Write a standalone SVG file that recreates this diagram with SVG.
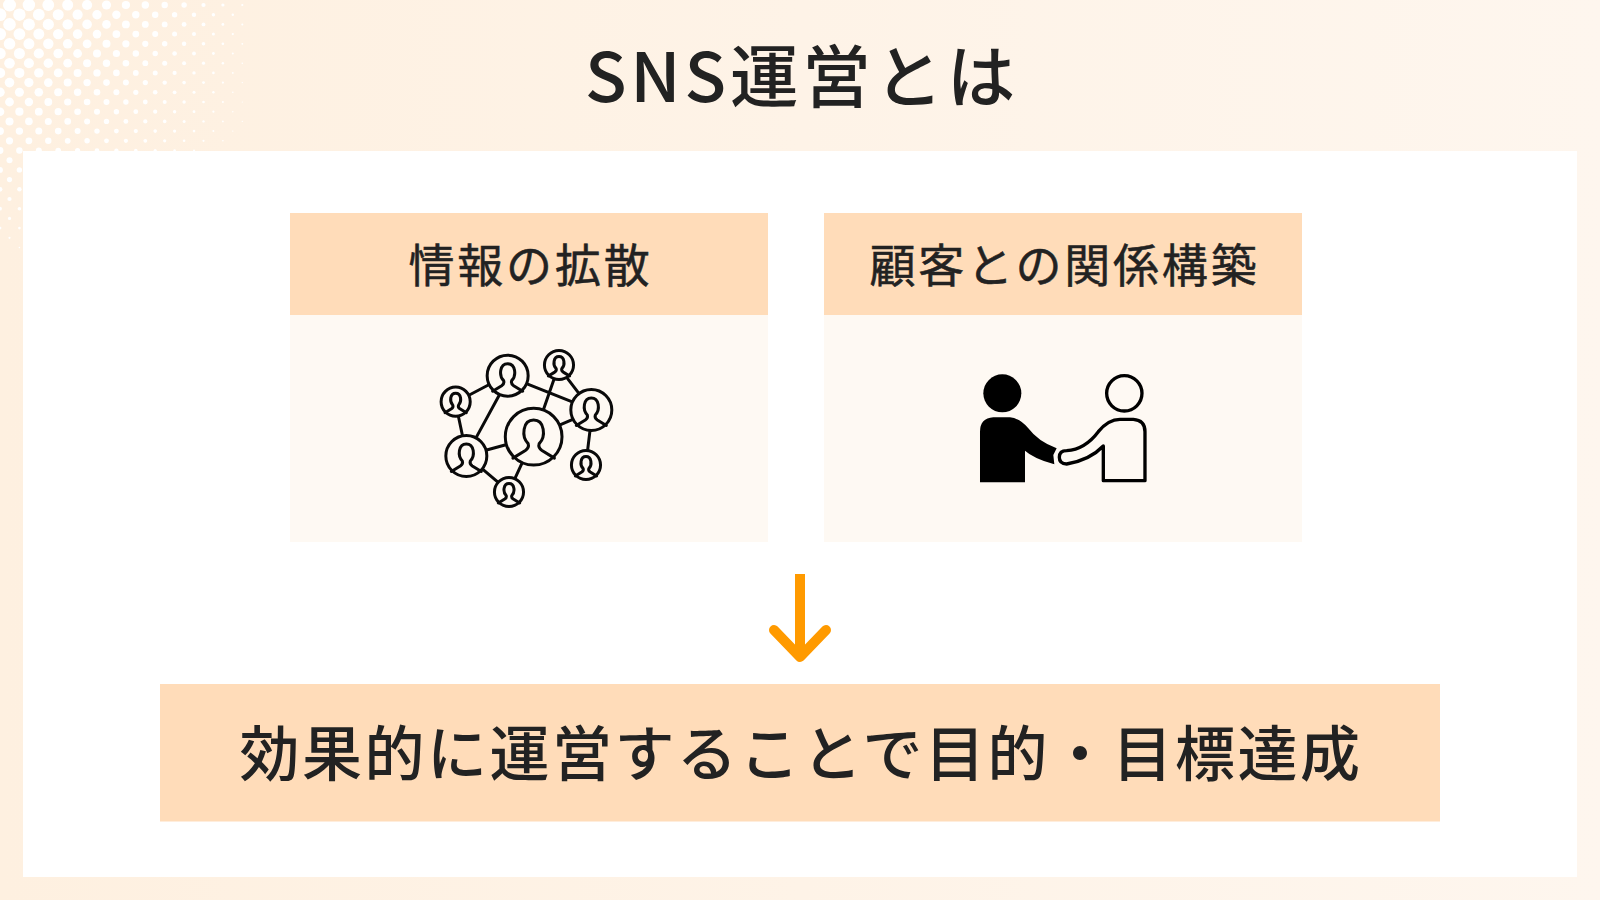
<svg xmlns="http://www.w3.org/2000/svg" width="1600" height="900" viewBox="0 0 1600 900">
<style>
text{font-family:"Noto Sans CJK JP","Noto Sans",sans-serif;font-weight:500;fill:#222;text-anchor:middle}
.h{font-size:46px;letter-spacing:2.8px;font-weight:400;stroke:#222;stroke-width:.5px}
.b{fill:#ffdcb9}.p{fill:#fef9f3}
.ln{fill:none;stroke:#0a0a0a;stroke-width:3;stroke-linecap:round;stroke-linejoin:round;vector-effect:non-scaling-stroke}
</style>
<defs>
<linearGradient id="bg" x1="0" y1="0" x2="1" y2="0"><stop offset="0" stop-color="#fef0e0"/><stop offset="1" stop-color="#fef6ee"/></linearGradient>
<g id="person"><circle class="ln" r="20.5" style="fill:#fef9f3"/><path class="ln" d="M-15,15.5 L-6,10 Q-3,8 -4,5 C-9,0 -8,-12 0,-12 C8,-12 9,0 4,5 Q3,8 6,10 L15,15.5"/></g>
</defs>
<rect id="background" width="1600" height="900" fill="url(#bg)"/>
<g id="halftone" fill="#fff">
<circle cx="9.5" cy="5" r="6.5"/><circle cx="28.9" cy="5" r="6.2"/><circle cx="48.3" cy="5" r="5.9"/><circle cx="67.7" cy="5" r="5.5"/><circle cx="87.1" cy="5" r="5.1"/><circle cx="106.5" cy="5" r="4.6"/><circle cx="125.9" cy="5" r="4.1"/><circle cx="145.3" cy="5" r="3.7"/><circle cx="164.7" cy="5" r="3.2"/><circle cx="184.1" cy="5" r="2.7"/><circle cx="203.5" cy="5" r="2.1"/><circle cx="222.9" cy="5" r="1.6"/><circle cx="242.3" cy="5" r="1.1"/>
<circle cx="0" cy="14.7" r="6.4"/><circle cx="19.4" cy="14.7" r="6.2"/><circle cx="38.8" cy="14.7" r="5.9"/><circle cx="58.2" cy="14.7" r="5.5"/><circle cx="77.6" cy="14.7" r="5.1"/><circle cx="97" cy="14.7" r="4.7"/><circle cx="116.4" cy="14.7" r="4.2"/><circle cx="135.8" cy="14.7" r="3.7"/><circle cx="155.2" cy="14.7" r="3.2"/><circle cx="174.6" cy="14.7" r="2.7"/><circle cx="194" cy="14.7" r="2.2"/><circle cx="213.4" cy="14.7" r="1.7"/><circle cx="232.8" cy="14.7" r="1.2"/>
<circle cx="9.5" cy="24.4" r="6.3"/><circle cx="28.9" cy="24.4" r="6"/><circle cx="48.3" cy="24.4" r="5.6"/><circle cx="67.7" cy="24.4" r="5.2"/><circle cx="87.1" cy="24.4" r="4.8"/><circle cx="106.5" cy="24.4" r="4.3"/><circle cx="125.9" cy="24.4" r="3.9"/><circle cx="145.3" cy="24.4" r="3.4"/><circle cx="164.7" cy="24.4" r="2.9"/><circle cx="184.1" cy="24.4" r="2.4"/><circle cx="203.5" cy="24.4" r="1.9"/><circle cx="222.9" cy="24.4" r="1.4"/><circle cx="242.3" cy="24.4" r="1"/>
<circle cx="0" cy="34.1" r="6.1"/><circle cx="19.4" cy="34.1" r="5.9"/><circle cx="38.8" cy="34.1" r="5.5"/><circle cx="58.2" cy="34.1" r="5.2"/><circle cx="77.6" cy="34.1" r="4.8"/><circle cx="97" cy="34.1" r="4.3"/><circle cx="116.4" cy="34.1" r="3.9"/><circle cx="135.8" cy="34.1" r="3.4"/><circle cx="155.2" cy="34.1" r="3"/><circle cx="174.6" cy="34.1" r="2.5"/><circle cx="194" cy="34.1" r="2"/><circle cx="213.4" cy="34.1" r="1.5"/><circle cx="232.8" cy="34.1" r="1.1"/>
<circle cx="9.5" cy="43.8" r="5.8"/><circle cx="28.9" cy="43.8" r="5.5"/><circle cx="48.3" cy="43.8" r="5.2"/><circle cx="67.7" cy="43.8" r="4.8"/><circle cx="87.1" cy="43.8" r="4.4"/><circle cx="106.5" cy="43.8" r="4"/><circle cx="125.9" cy="43.8" r="3.6"/><circle cx="145.3" cy="43.8" r="3.1"/><circle cx="164.7" cy="43.8" r="2.7"/><circle cx="184.1" cy="43.8" r="2.2"/><circle cx="203.5" cy="43.8" r="1.8"/><circle cx="222.9" cy="43.8" r="1.3"/><circle cx="242.3" cy="43.8" r=".9"/>
<circle cx="0" cy="53.5" r="5.7"/><circle cx="19.4" cy="53.5" r="5.5"/><circle cx="38.8" cy="53.5" r="5.1"/><circle cx="58.2" cy="53.5" r="4.8"/><circle cx="77.6" cy="53.5" r="4.4"/><circle cx="97" cy="53.5" r="4"/><circle cx="116.4" cy="53.5" r="3.6"/><circle cx="135.8" cy="53.5" r="3.2"/><circle cx="155.2" cy="53.5" r="2.7"/><circle cx="174.6" cy="53.5" r="2.3"/><circle cx="194" cy="53.5" r="1.9"/><circle cx="213.4" cy="53.5" r="1.4"/><circle cx="232.8" cy="53.5" r="1"/>
<circle cx="9.5" cy="63.2" r="5.3"/><circle cx="28.9" cy="63.2" r="5"/><circle cx="48.3" cy="63.2" r="4.7"/><circle cx="67.7" cy="63.2" r="4.4"/><circle cx="87.1" cy="63.2" r="4"/><circle cx="106.5" cy="63.2" r="3.7"/><circle cx="125.9" cy="63.2" r="3.3"/><circle cx="145.3" cy="63.2" r="2.9"/><circle cx="164.7" cy="63.2" r="2.5"/><circle cx="184.1" cy="63.2" r="2"/><circle cx="203.5" cy="63.2" r="1.6"/><circle cx="222.9" cy="63.2" r="1.2"/><circle cx="242.3" cy="63.2" r=".8"/>
<circle cx="0" cy="72.9" r="5.2"/><circle cx="19.4" cy="72.9" r="5"/><circle cx="38.8" cy="72.9" r="4.7"/><circle cx="58.2" cy="72.9" r="4.4"/><circle cx="77.6" cy="72.9" r="4"/><circle cx="97" cy="72.9" r="3.7"/><circle cx="116.4" cy="72.9" r="3.3"/><circle cx="135.8" cy="72.9" r="2.9"/><circle cx="155.2" cy="72.9" r="2.5"/><circle cx="174.6" cy="72.9" r="2.1"/><circle cx="194" cy="72.9" r="1.7"/><circle cx="213.4" cy="72.9" r="1.3"/><circle cx="232.8" cy="72.9" r=".9"/>
<circle cx="9.5" cy="82.6" r="4.8"/><circle cx="28.9" cy="82.6" r="4.6"/><circle cx="48.3" cy="82.6" r="4.3"/><circle cx="67.7" cy="82.6" r="4"/><circle cx="87.1" cy="82.6" r="3.7"/><circle cx="106.5" cy="82.6" r="3.3"/><circle cx="125.9" cy="82.6" r="3"/><circle cx="145.3" cy="82.6" r="2.6"/><circle cx="164.7" cy="82.6" r="2.2"/><circle cx="184.1" cy="82.6" r="1.8"/><circle cx="203.5" cy="82.6" r="1.4"/><circle cx="222.9" cy="82.6" r="1.1"/><circle cx="242.3" cy="82.6" r=".7"/>
<circle cx="0" cy="92.3" r="4.7"/><circle cx="19.4" cy="92.3" r="4.5"/><circle cx="38.8" cy="92.3" r="4.3"/><circle cx="58.2" cy="92.3" r="4"/><circle cx="77.6" cy="92.3" r="3.7"/><circle cx="97" cy="92.3" r="3.3"/><circle cx="116.4" cy="92.3" r="3"/><circle cx="135.8" cy="92.3" r="2.6"/><circle cx="155.2" cy="92.3" r="2.3"/><circle cx="174.6" cy="92.3" r="1.9"/><circle cx="194" cy="92.3" r="1.5"/><circle cx="213.4" cy="92.3" r="1.2"/><circle cx="232.8" cy="92.3" r=".8"/>
<circle cx="9.5" cy="102" r="4.4"/><circle cx="28.9" cy="102" r="4.2"/><circle cx="48.3" cy="102" r="3.9"/><circle cx="67.7" cy="102" r="3.6"/><circle cx="87.1" cy="102" r="3.3"/><circle cx="106.5" cy="102" r="3"/><circle cx="125.9" cy="102" r="2.7"/><circle cx="145.3" cy="102" r="2.4"/><circle cx="164.7" cy="102" r="2"/><circle cx="184.1" cy="102" r="1.7"/><circle cx="203.5" cy="102" r="1.3"/><circle cx="222.9" cy="102" r="1"/><circle cx="242.3" cy="102" r=".6"/>
<circle cx="0" cy="111.7" r="4.3"/><circle cx="19.4" cy="111.7" r="4.1"/><circle cx="38.8" cy="111.7" r="3.9"/><circle cx="58.2" cy="111.7" r="3.6"/><circle cx="77.6" cy="111.7" r="3.3"/><circle cx="97" cy="111.7" r="3"/><circle cx="116.4" cy="111.7" r="2.7"/><circle cx="135.8" cy="111.7" r="2.4"/><circle cx="155.2" cy="111.7" r="2.1"/><circle cx="174.6" cy="111.7" r="1.7"/><circle cx="194" cy="111.7" r="1.4"/><circle cx="213.4" cy="111.7" r="1.1"/><circle cx="232.8" cy="111.7" r=".7"/>
<circle cx="9.5" cy="121.4" r="4"/><circle cx="28.9" cy="121.4" r="3.8"/><circle cx="48.3" cy="121.4" r="3.5"/><circle cx="67.7" cy="121.4" r="3.3"/><circle cx="87.1" cy="121.4" r="3"/><circle cx="106.5" cy="121.4" r="2.7"/><circle cx="125.9" cy="121.4" r="2.4"/><circle cx="145.3" cy="121.4" r="2.1"/><circle cx="164.7" cy="121.4" r="1.8"/><circle cx="184.1" cy="121.4" r="1.5"/><circle cx="203.5" cy="121.4" r="1.2"/><circle cx="222.9" cy="121.4" r=".9"/><circle cx="242.3" cy="121.4" r=".6"/>
<circle cx="0" cy="131.1" r="3.9"/><circle cx="19.4" cy="131.1" r="3.7"/><circle cx="38.8" cy="131.1" r="3.5"/><circle cx="58.2" cy="131.1" r="3.3"/><circle cx="77.6" cy="131.1" r="3"/><circle cx="97" cy="131.1" r="2.7"/><circle cx="116.4" cy="131.1" r="2.4"/><circle cx="135.8" cy="131.1" r="2.1"/><circle cx="155.2" cy="131.1" r="1.8"/><circle cx="174.6" cy="131.1" r="1.6"/><circle cx="194" cy="131.1" r="1.3"/><circle cx="213.4" cy="131.1" r="1"/><circle cx="232.8" cy="131.1" r=".7"/>
<circle cx="9.5" cy="140.8" r="3.6"/><circle cx="28.9" cy="140.8" r="3.4"/><circle cx="48.3" cy="140.8" r="3.2"/><circle cx="67.7" cy="140.8" r="2.9"/><circle cx="87.1" cy="140.8" r="2.7"/><circle cx="106.5" cy="140.8" r="2.4"/><circle cx="125.9" cy="140.8" r="2.1"/><circle cx="145.3" cy="140.8" r="1.9"/><circle cx="164.7" cy="140.8" r="1.6"/><circle cx="184.1" cy="140.8" r="1.3"/><circle cx="203.5" cy="140.8" r="1.1"/><circle cx="222.9" cy="140.8" r=".8"/>
<circle cx="0" cy="150.5" r="3.4"/><circle cx="19.4" cy="150.5" r="3.2"/><circle cx="38.8" cy="150.5" r="3"/><circle cx="58.2" cy="150.5" r="2.8"/><circle cx="77.6" cy="150.5" r="2.6"/><circle cx="97" cy="150.5" r="2.3"/><circle cx="116.4" cy="150.5" r="2.1"/><circle cx="135.8" cy="150.5" r="1.8"/><circle cx="155.2" cy="150.5" r="1.6"/><circle cx="174.6" cy="150.5" r="1.3"/><circle cx="194" cy="150.5" r="1"/>
<circle cx="9.5" cy="160.2" r="3"/>
<circle cx="0" cy="169.9" r="2.9"/><circle cx="19.4" cy="169.9" r="2.7"/>
<circle cx="9.5" cy="179.6" r="2.6"/>
<circle cx="0" cy="189.3" r="2.4"/><circle cx="19.4" cy="189.3" r="2.2"/>
<circle cx="9.5" cy="199" r="2.1"/>
<circle cx="0" cy="208.7" r="1.9"/><circle cx="19.4" cy="208.7" r="1.8"/>
<circle cx="9.5" cy="218.4" r="1.6"/>
<circle cx="0" cy="228.1" r="1.4"/><circle cx="19.4" cy="228.1" r="1.3"/>
<circle cx="9.5" cy="237.8" r="1.1"/>
<circle cx="19.4" cy="247.5" r=".8"/>
</g>
<rect id="sheet" x="23" y="151" width="1554" height="726" fill="#fff"/>
<text id="title" x="802" y="102" font-size="68.5" letter-spacing="3.8">SNS運営とは</text>
<g id="card-spread">
<rect class="p" x="290" y="315" width="478" height="227"/>
<rect class="b" x="290" y="213" width="478" height="102"/>
<text class="h" x="530.5" y="282">情報の拡散</text>
<g transform="translate(420,340) scale(.3333)">
<path class="ln" d="M205,135L148,165M238,165L170,290M115,228L127,285M325,133L455,185M402,118L370,210M440,112L475,158M420,255L455,240M200,330L255,315M185,385L232,425M305,372L285,415M510,272L503,330"/>
<use href="#person" transform="translate(263,107) scale(3)"/>
<use href="#person" transform="translate(417,75) scale(2.13)"/>
<use href="#person" transform="translate(514,210) scale(3)"/>
<use href="#person" transform="translate(107,185) scale(2.13)"/>
<use href="#person" transform="translate(139,348) scale(3)"/>
<use href="#person" transform="translate(267,456) scale(2.13)"/>
<use href="#person" transform="translate(498,375) scale(2.13)"/>
<use href="#person" transform="translate(341,290) scale(4.15)"/>
</g>
</g>
<g id="card-relation">
<rect class="p" x="824" y="315" width="478" height="227"/>
<rect class="b" x="824" y="213" width="478" height="102"/>
<text class="h" x="1064.5" y="282">顧客との関係構築</text>
<g transform="translate(960,360) scale(.3333)">
<circle cx="127" cy="100" r="57" fill="#000"/>
<path fill="#000" d="M60,367V215Q60,175 100,172H150Q180,175 205,205Q235,245 290,265L280,285L283,313Q220,295 195,272V367Z"/>
<circle cx="493" cy="100" r="53" fill="none" stroke="#000" stroke-width="10"/>
<path fill="none" stroke="#000" stroke-width="10" stroke-linejoin="round" d="M430,362V258Q390,300 320,312Q298,312 298,292Q298,272 320,272Q375,268 415,215Q445,178 480,178H520Q555,180 555,215V362Z"/>
</g>
</g>
<g id="connectors">
<path d="M800,574V657" fill="none" stroke="#ff9a00" stroke-width="10"/>
<path d="M774,630L800,657L826,630" fill="none" stroke="#ff9a00" stroke-width="10" stroke-linecap="round" stroke-linejoin="round"/>
</g>
<g id="result">
<rect class="b" x="160" y="684" width="1280" height="137.5"/>
<text x="801" y="776" font-size="60" letter-spacing="2.5">効果的に運営することで目的・目標達成</text>
</g>
</svg>
